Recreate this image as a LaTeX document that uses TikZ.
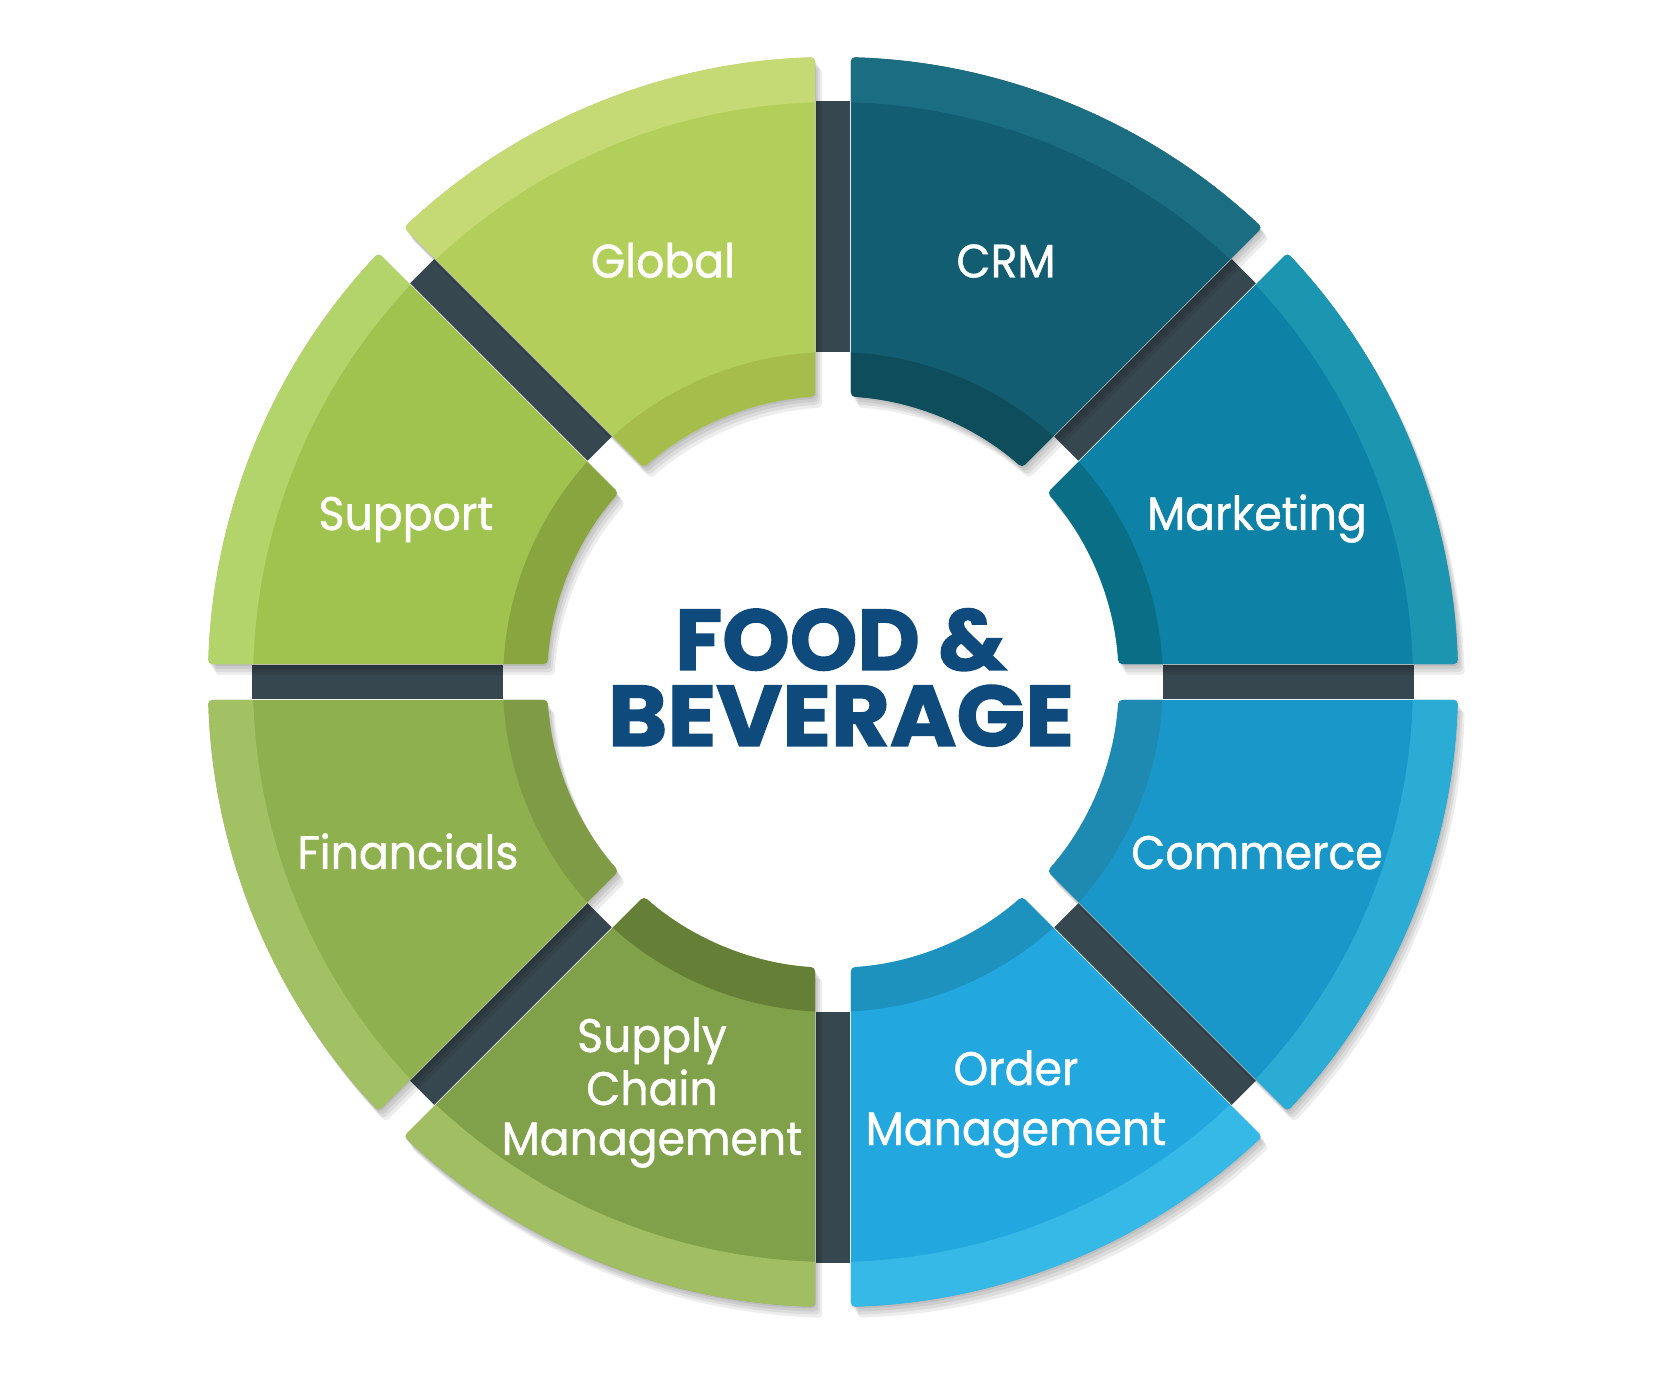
\documentclass[tikz,border=0pt]{standalone}
\usepackage{fontspec}
\setmainfont{Poppins}
\newfontfamily\lblfont{Poppins}[FakeBold=0.9, FakeStretch=0.94]
\newfontfamily\ttlfont{Poppins}[BoldFeatures={FakeBold=1.6}]
\definecolor{gO}{HTML}{C5DA74}\definecolor{gM}{HTML}{B3CF5B}\definecolor{gI}{HTML}{A6BD4B}
\definecolor{sO}{HTML}{B2D46A}\definecolor{sM}{HTML}{A0C350}\definecolor{sI}{HTML}{88A540}
\definecolor{fO}{HTML}{A2C064}\definecolor{fM}{HTML}{8EB04E}\definecolor{fI}{HTML}{809B45}
\definecolor{uO}{HTML}{A1BF62}\definecolor{uM}{HTML}{80A049}\definecolor{uI}{HTML}{667F37}
\definecolor{oO}{HTML}{37B9E8}\definecolor{oM}{HTML}{23A7DF}\definecolor{oI}{HTML}{1E92BE}
\definecolor{cO}{HTML}{2AACD5}\definecolor{cM}{HTML}{1A97C9}\definecolor{cI}{HTML}{1E8AB1}
\definecolor{mO}{HTML}{1C95B1}\definecolor{mM}{HTML}{0D81A6}\definecolor{mI}{HTML}{0A6F86}
\definecolor{rO}{HTML}{1B6E82}\definecolor{rM}{HTML}{125D71}\definecolor{rI}{HTML}{0E4D5B}
\definecolor{barcol}{HTML}{37474F}
\definecolor{titlecol}{HTML}{0F4A7D}
\tikzset{
  segp/.style 2 args={insert path={({#1+1.65}:625) arc[start angle={#1+1.65}, end angle={#2-1.65}, radius=625] -- ({#2-3.608}:286) arc[start angle={#2-3.608}, end angle={#1+3.608}, radius=286] -- cycle}},
  lbl/.style={text=white, font=\lblfont\fontsize{23.5}{26}\selectfont, anchor=base, inner sep=0pt},
  ttl/.style={text=titlecol, font=\ttlfont\bfseries\fontsize{43}{38}\selectfont, anchor=base, inner sep=0pt},
}
\begin{document}
\begin{tikzpicture}[x=0.5pt, y=0.5pt]
\fill[white] (-833,-694) rectangle (834,682);
\useasboundingbox (-833,-694) rectangle (834,682);
% dark bars
\foreach \t in {0,45,...,315}{
  \fill[barcol, rotate=\t] (330,-17) rectangle (581,17);
}
% shadows
\foreach \a/\b in {0/45,45/90,90/135,135/180,180/225,225/270,270/315,315/360}{
  \foreach \dx/\dy in {1/-2,3/-5,5/-8,7/-11}{
    \fill[black, opacity=0.07, rounded corners=2pt, shift={(\dx,\dy)}, segp={\a}{\b}];
  }
}
% segments
\foreach \a/\b/\co/\cm/\ci in {45/90/rO/rM/rI, 0/45/mO/mM/mI, -45/0/cO/cM/cI, -90/-45/oO/oM/oI, -135/-90/uO/uM/uI, 180/225/fO/fM/fI, 135/180/sO/sM/sI, 90/135/gO/gM/gI}{
  \begin{scope}
    \path[clip, rounded corners=2pt, segp={\a}{\b}];
    \fill[fill=\cm] (0,0) circle[radius=640];
    \fill[fill=\co, even odd rule] (0,0) circle[radius=640] circle[radius=580];
    \fill[fill=\ci] (0,0) circle[radius=330];
  \end{scope}
}
% labels
\node[lbl] (global) at (-170,404.5) {Global};
\node[lbl] (crm) at (173,404.5) {CRM};
\node[lbl] (support) at (-427,152) {Support};
\node[lbl] (marketing) at (424,152) {Marketing};
\node[lbl] (financials) at (-425,-187) {Financials};
\node[lbl] (commerce) at (424,-187) {Commerce};
\node[lbl] (scm1) at (-181,-370) {Supply};
\node[lbl] (scm2) at (-181,-423) {Chain};
\node[lbl] (scm3) at (-181,-473) {Management};
\node[lbl] (om1) at (183,-403) {Order};
\node[lbl] (om2) at (183,-463) {Management};
\node[ttl] (title1) at (8,12) {FOOD \&};
\node[ttl] (title2) at (8,-64) {\scalebox{1.05}[1]{BEVERAGE}};
\end{tikzpicture}
\end{document}
